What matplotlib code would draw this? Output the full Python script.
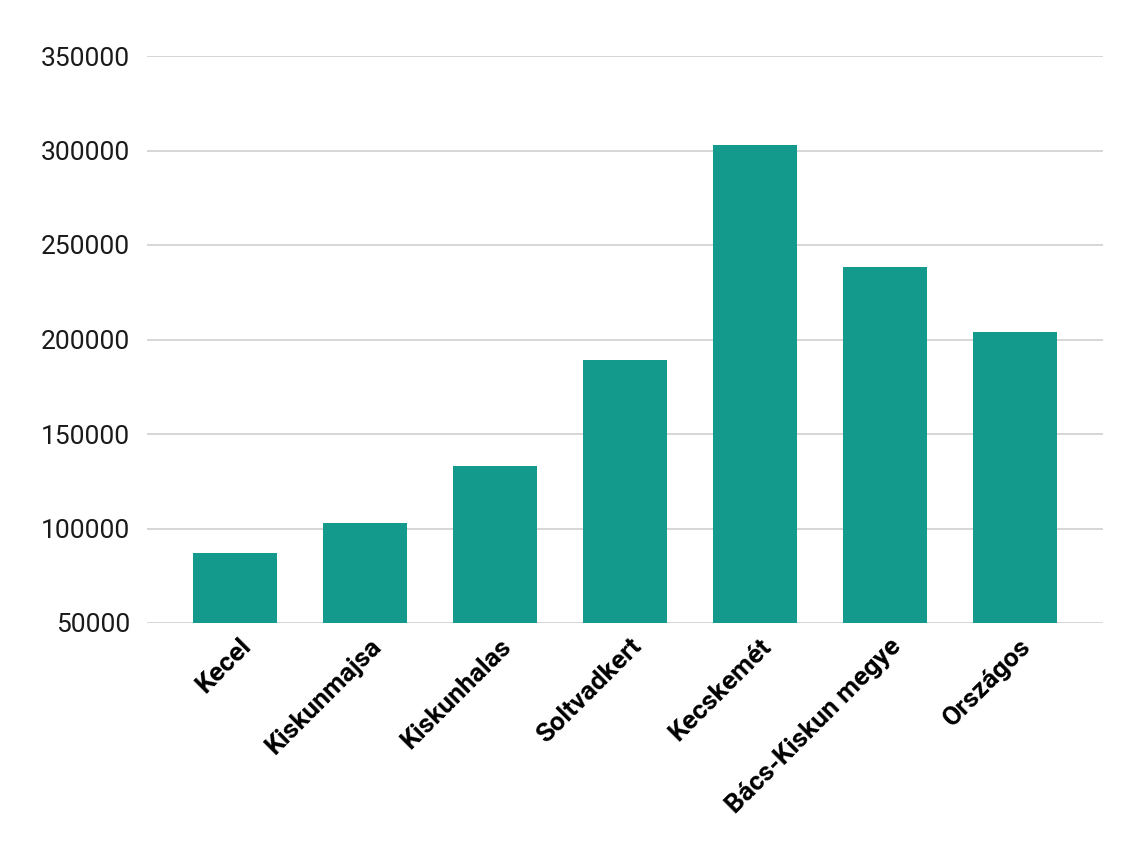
import matplotlib
matplotlib.use("Agg")
import matplotlib.pyplot as plt

categories = ["Kecel", "Kiskunmajsa", "Kiskunhalas", "Soltvadkert", "Kecskemét",
              "Bács-Kiskun megye", "Országos"]
values = [86900, 102900, 133200, 189000, 302800, 238300, 204200]
yticks = [50000, 100000, 150000, 200000, 250000, 300000, 350000]

plt.rcParams['font.family'] = ['Roboto', 'DejaVu Sans']

fig = plt.figure(figsize=(11.46, 8.59), dpi=100)
ax = fig.add_axes([147/1146, 1-623/859, (1103-147)/1146, (623-56)/859])

x = list(range(len(categories)))
ax.bar(x, values, width=0.646, color="#139A8C", zorder=3)

ax.set_ylim(50000, 350000)
ax.set_xlim(-0.677, 6.677)
ax.set_yticks(yticks)
ax.set_yticklabels([str(v) for v in yticks], fontsize=19, color="#1a1a1a")
ax.yaxis.grid(True, color="#cccccc", linewidth=1.1, zorder=0)
ax.set_axisbelow(True)
for s in ax.spines.values():
    s.set_visible(False)
ax.tick_params(axis='y', length=0, pad=12)
ax.tick_params(axis='x', length=0, pad=8)
ax.set_xticks(x)
ax.set_xticklabels(categories, rotation=45, ha='right', rotation_mode='anchor',
                   fontsize=19, fontweight='bold', color="#000000")
for lbl in ax.get_xticklabels():
    lbl.set_x(lbl.get_position()[0])
import matplotlib.transforms as mtransforms
offset = mtransforms.ScaledTranslation(4/100, 0, fig.dpi_scale_trans)
for lbl in ax.get_xticklabels():
    lbl.set_transform(lbl.get_transform() + offset)

fig.savefig("out.png", dpi=100, facecolor="white")
